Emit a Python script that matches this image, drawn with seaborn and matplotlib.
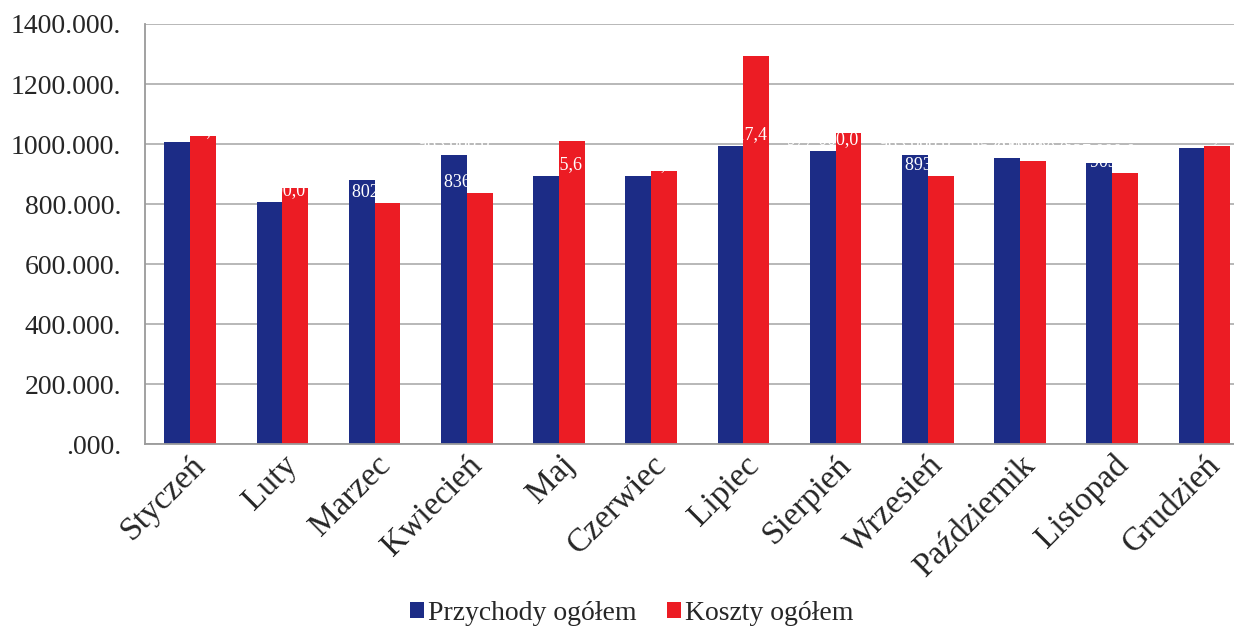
"""
przychody i koszty ogółem w poszczególnych miesiącach
"""
import matplotlib
import matplotlib.pyplot as plt
import pandas as pd
import seaborn as sns
from matplotlib.ticker import FuncFormatter, MultipleLocator

matplotlib.use('Agg')
sns.set_style('white')
plt.rcParams['font.family'] = ['Liberation Serif', 'DejaVu Serif']

months = ['Styczeń', 'Luty', 'Marzec', 'Kwiecień', 'Maj', 'Czerwiec',
          'Lipiec', 'Sierpień', 'Wrzesień', 'Październik', 'Listopad', 'Grudzień']
przychody = [1007000.0, 807000.0, 880000.0, 963000.0, 895125.6, 893000.0,
             993317.4, 977000.0, 963000.0, 953000.0, 937000.0, 987000.0]
koszty = [1027000.0, 853000.0, 802400.0, 836500.0, 1010000.0, 910000.0,
          1293000.0, 1037000.0, 893000.0, 943000.0, 903000.0, 993000.0]
series_names = ['Przychody ogółem', 'Koszty ogółem']
colors = ['#1c2c86', '#ec1c24']

df = pd.DataFrame({
    'miesiac': months * 2,
    'wartosc': przychody + koszty,
    'seria': [series_names[0]] * len(months) + [series_names[1]] * len(months),
})

fig = plt.figure(figsize=(12.34, 6.31), dpi=100)
ax = fig.add_axes([0.1175, 0.296, 0.8825, 0.666])

sns.barplot(data=df, x='miesiac', y='wartosc', hue='seria', order=months,
            hue_order=series_names, palette=colors, width=0.56,
            saturation=1, linewidth=0, ax=ax, legend=True)

# white value labels, visible only where they overlap a taller neighbour bar
for cont in ax.containers:
    vals = cont.datavalues
    labels = [f'{v:,.1f}'.replace(',', ' ').replace('.', ',') for v in vals]
    ax.bar_label(cont, labels=labels, color='white', fontsize=13, padding=2)

ax.set_ylim(0, 1400000)
ax.set_xlim(-0.49, 11.32)
ax.yaxis.set_major_locator(MultipleLocator(200000))
ax.yaxis.set_major_formatter(FuncFormatter(
    lambda v, _: f'{int(round(v / 1000)) if v else ""}.000.'))
ax.grid(axis='y', color='#ababab', linewidth=1.2)
ax.set_axisbelow(True)
ax.set_xlabel('')
ax.set_ylabel('')
ax.tick_params(axis='y', labelsize=20, pad=17, length=0)
ax.tick_params(axis='x', labelsize=24, length=0, pad=4)
for lab in ax.get_xticklabels():
    lab.set_rotation(45)
    lab.set_ha('right')
    lab.set_rotation_mode('anchor')

for side in ['top', 'right']:
    ax.spines[side].set_visible(False)
for side in ['left', 'bottom']:
    ax.spines[side].set_color('#9a9a9a')
    ax.spines[side].set_linewidth(1.3)

handles, labs = ax.get_legend_handles_labels()
ax.get_legend().remove()
fig.legend(handles, labs, loc='center', bbox_to_anchor=(0.512, 0.028), ncol=2,
           frameon=False, fontsize=20, handlelength=0.5, handleheight=0.5,
           handletextpad=0.15, columnspacing=1.1)

plt.savefig('out.png', dpi=100)
plt.close()
